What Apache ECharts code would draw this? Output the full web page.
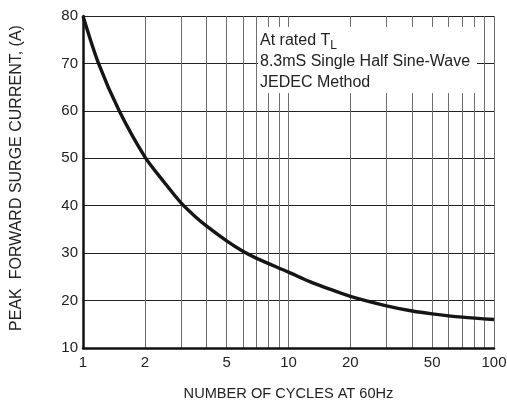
<!DOCTYPE html>
<html>
<head>
<meta charset="utf-8">
<script src="https://cdn.jsdelivr.net/npm/echarts@6/dist/echarts.min.js"></script>
<style>
  html, body { margin: 0; padding: 0; background: #fff; }
  #chart { width: 507px; height: 408px; }
</style>
</head>
<body>
<div id="chart"></div>
<script>
// surge curve
const cycles = [1, 1.19, 1.5, 2, 2.5, 3, 3.5, 4, 5, 6, 7, 10, 12.7, 15, 20, 30, 40, 50, 70, 100]
const surge = [80, 70, 60, 50.3, 44.8, 40.6, 37.8, 35.7, 32.6, 30.4, 28.9, 26.0, 24.0, 22.8, 20.9, 18.9, 17.8, 17.2, 16.5, 16.0]

// log grid lines and the labelled subset
const xGridValues = [1, 2, 3, 4, 5, 6, 7, 8, 9, 10, 20, 30, 40, 50, 60, 70, 80, 90, 100]
const xLabelValues = [1, 2, 5, 10, 20, 50, 100]
const yMin = 10
const yMax = 80
const yStep = 10

const noteLines = ['{a|At rated T}{s|L}', '8.3mS Single Half Sine-Wave', 'JEDEC Method']

const SANS = '"Liberation Sans", Arial, sans-serif'
const NARROW = '"Liberation Sans Narrow", "Liberation Sans", Arial, sans-serif'

const chart = echarts.init(document.getElementById('chart'), null, { renderer: 'canvas' })

chart.setOption({
  backgroundColor: '#fff',
  animation: false,
  grid: { left: 83, right: 13, top: 16, bottom: 60, outerBoundsMode: 'none' },
  xAxis: {
    type: 'log',
    logBase: 10,
    min: 1,
    max: 100,
    name: 'NUMBER OF CYCLES AT 60Hz',
    nameLocation: 'middle',
    nameGap: 38,
    nameTextStyle: { color: '#222', fontSize: 14.6, fontFamily: SANS },
    axisLine: { lineStyle: { color: '#111', width: 2.5 } },
    axisTick: { show: false, customValues: xGridValues },
    axisLabel: { customValues: xLabelValues, color: '#222', fontSize: 15, fontFamily: NARROW, margin: 7 },
    splitLine: { show: true, lineStyle: { color: '#6e6e6e', width: 1 } }
  },
  yAxis: {
    type: 'value',
    min: yMin,
    max: yMax,
    interval: yStep,
    name: 'PEAK  FORWARD SURGE CURRENT, (A)',
    nameLocation: 'middle',
    nameGap: 58,
    nameTextStyle: { color: '#222', fontSize: 16, fontFamily: SANS, padding: [0, 0, 0, 8] },
    axisLine: { show: true, lineStyle: { color: '#111', width: 2.5 } },
    axisTick: { show: false },
    axisLabel: { color: '#222', fontSize: 15, fontFamily: NARROW, margin: 5 },
    splitLine: { show: true, lineStyle: { color: '#222', width: 1 } }
  },
  graphic: [
    {
      type: 'rect',
      left: 258,
      top: 27,
      z: 10,
      shape: { width: 219, height: 66 },
      style: { fill: '#fff' }
    },
    {
      type: 'text',
      left: 260,
      top: 30,
      z: 11,
      style: {
        text: noteLines.join('\n'),
        fill: '#222',
        font: '16px ' + SANS,
        lineHeight: 21,
        rich: {
          a: { fontSize: 16, fontFamily: SANS, fill: '#222' },
          s: { fontSize: 12, fontFamily: SANS, fill: '#222', padding: [10, 0, 0, 0] }
        }
      }
    }
  ],
  series: [
    {
      type: 'line',
      data: cycles.map((c, i) => [c, surge[i]]),
      smooth: 0.3,
      symbol: 'none',
      z: 5,
      lineStyle: { color: '#151515', width: 3.4 }
    }
  ]
})
</script>
</body>
</html>
